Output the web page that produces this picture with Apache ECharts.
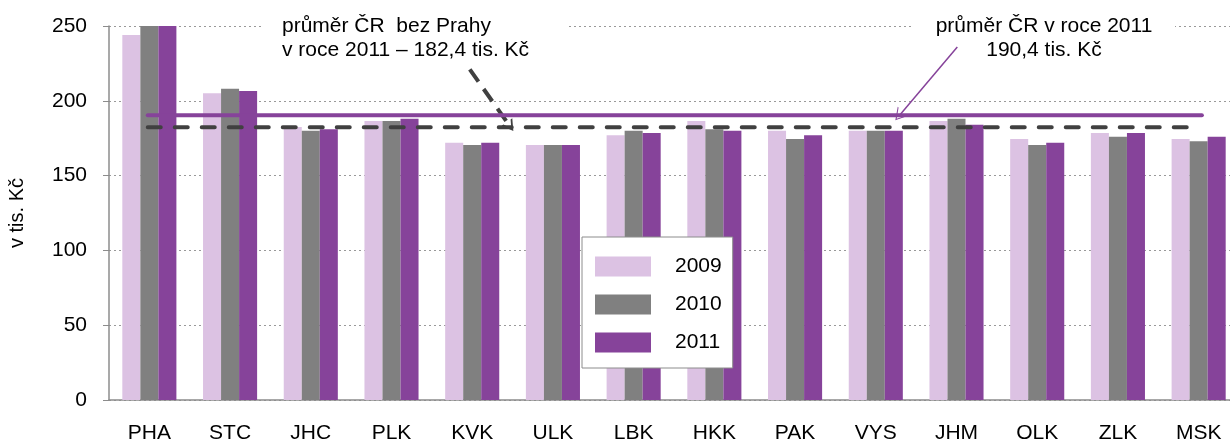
<!DOCTYPE html>
<html>
<head>
<meta charset="utf-8">
<script src="https://cdn.jsdelivr.net/npm/echarts@6/dist/echarts.min.js"></script>
<style>
  html, body { margin: 0; padding: 0; background: #fff; }
  #chart { width: 1230px; height: 444px; }
</style>
</head>
<body>
<div id="chart"></div>
<script>
// kraje
const regions = ['PHA', 'STC', 'JHC', 'PLK', 'KVK', 'ULK', 'LBK', 'HKK', 'PAK', 'VYS', 'JHM', 'OLK', 'ZLK', 'MSK'];
// hodnoty v tis. Kč
const values2009 = [244, 205, 182.5, 186.5, 172, 170.5, 177, 186.5, 180, 180, 186.5, 174.5, 178.5, 174.5];
const values2010 = [250, 208, 180, 186.5, 170.5, 170.5, 180, 181, 174.5, 180, 188, 170.5, 176, 173];
const values2011 = [250, 206.5, 181, 188, 172, 170.5, 178.5, 180, 177, 180, 184, 172, 178.5, 176];
const yTicks = [0, 50, 100, 150, 200, 250];

// průměry
const avgCR = 190.4;
const avgNoPraha = 182.4;
// rozsah čar a šipek na pomocné ose x (0 až 14 = šířka krajů)
const avgLineX = [0.48, 13.54];
const noPrahaLineX = [0.48, 13.37];
const noPrahaArrow = [[4.47, 221], [4.97, 182.8]];
const avgArrow = [[10.51, 236], [9.79, 190]];

const FONT = '"Liberation Sans", Arial, sans-serif';
const chevron = 'path://M0,10 L5,0 L10,10 L8.4,10 L5,3.2 L1.6,10 Z';

const myChart = echarts.init(document.getElementById('chart'));

const option = {
  animation: false,
  textStyle: { fontFamily: FONT },
  grid: { left: 109, top: 26, width: 1130, height: 374, containLabel: false, outerBoundsMode: 'none' },
  legend: {
    data: ['2009', '2010', '2011'],
    orient: 'vertical',
    left: 582,
    top: 237,
    icon: 'rect',
    itemWidth: 56,
    itemHeight: 20,
    itemGap: 17,
    padding: [19, 11, 15, 13],
    backgroundColor: '#fff',
    borderColor: '#8c8c8c',
    borderWidth: 1,
    selectedMode: false,
    textStyle: { fontSize: 21, color: '#000', fontFamily: FONT, padding: [0, 0, 0, 19] }
  },
  xAxis: [
    {
      type: 'category',
      data: regions,
      axisLine: { lineStyle: { color: '#8c8c8c', width: 1.5 } },
      axisTick: { length: 5, lineStyle: { color: '#8c8c8c' } },
      axisLabel: { interval: 0, margin: 23, fontSize: 21, color: '#000', fontFamily: FONT }
    },
    {
      type: 'value',
      min: 0,
      max: 14,
      show: false
    }
  ],
  yAxis: {
    type: 'value',
    min: yTicks[0],
    max: yTicks[yTicks.length - 1],
    interval: 50,
    name: 'v tis. Kč',
    nameLocation: 'middle',
    nameGap: 82,
    nameTextStyle: { fontSize: 20, color: '#000', fontFamily: FONT },
    axisLine: { show: true, lineStyle: { color: '#8c8c8c', width: 1.5 } },
    axisTick: { show: true, length: 6, lineStyle: { color: '#8c8c8c' } },
    axisLabel: { margin: 22, fontSize: 21, color: '#000', fontFamily: FONT },
    splitLine: { show: true, lineStyle: { color: '#999', type: [2, 3], width: 1 } }
  },
  series: [
    {
      name: '2009', type: 'bar', data: values2009,
      barGap: 0, barCategoryGap: '33%',
      itemStyle: { color: '#dcc2e3' }
    },
    {
      name: '2010', type: 'bar', data: values2010,
      barGap: 0, barCategoryGap: '33%',
      itemStyle: { color: '#808080' }
    },
    {
      name: '2011', type: 'bar', data: values2011,
      barGap: 0, barCategoryGap: '33%',
      itemStyle: { color: '#86439a' }
    },
    {
      name: 'bez Prahy', type: 'line', xAxisIndex: 1, yAxisIndex: 0,
      data: [[noPrahaLineX[0], avgNoPraha], [noPrahaLineX[1], avgNoPraha]],
      showSymbol: false, silent: true, z: 4,
      lineStyle: { color: '#404040', width: 4, type: [13, 14], cap: 'round' },
      markLine: {
        silent: true,
        symbol: ['none', chevron],
        symbolSize: [13, 11],
        label: { show: false },
        lineStyle: { color: '#404040', width: 4, type: [15, 9] },
        data: [[{ coord: noPrahaArrow[0] }, { coord: noPrahaArrow[1] }]]
      }
    },
    {
      name: 'průměr', type: 'line', xAxisIndex: 1, yAxisIndex: 0,
      data: [[avgLineX[0], avgCR], [avgLineX[1], avgCR]],
      showSymbol: false, silent: true, z: 5,
      lineStyle: { color: '#86439a', width: 4, type: 'solid', cap: 'round' },
      markLine: {
        silent: true,
        symbol: ['none', 'path://M0,10 L5,0 L10,10 L9.2,10 L5,1.8 L0.8,10 Z'],
        symbolSize: [14, 12],
        label: { show: false },
        lineStyle: { color: '#86439a', width: 1.5, type: 'solid' },
        data: [[{ coord: avgArrow[0] }, { coord: avgArrow[1] }]]
      }
    }
  ],
  graphic: [
    { type: 'rect', x: 263, y: 12, shape: { width: 304, height: 30 }, style: { fill: '#fff' }, z: 10 },
    {
      type: 'text', x: 282, y: 14, z: 11,
      style: {
        text: 'průměr ČR  bez Prahy\nv roce 2011 – 182,4 tis. Kč',
        font: '21px ' + FONT, fill: '#000', lineHeight: 24
      }
    },
    { type: 'rect', x: 912, y: 12, shape: { width: 263, height: 30 }, style: { fill: '#fff' }, z: 10 },
    {
      type: 'text', x: 1044, y: 14, z: 11,
      style: {
        text: 'průměr ČR v roce 2011\n190,4 tis. Kč',
        font: '21px ' + FONT, fill: '#000', lineHeight: 24, align: 'center'
      }
    }
  ]
};

myChart.setOption(option);
</script>
</body>
</html>
